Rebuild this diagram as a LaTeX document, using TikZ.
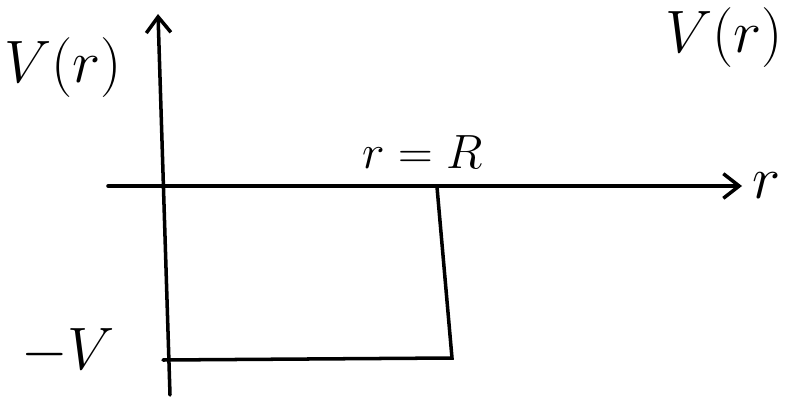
\documentclass[tikz,border=0pt]{standalone}
\usepackage{amsmath}
\usetikzlibrary{positioning,arrows.meta}
\begin{document}
\begin{tikzpicture}[x=0.02cm,y=-0.02cm,line width=2pt,line cap=round,
  tip/.style={-{Straight Barb[length=9pt,width=14pt,line width=2pt]}},
  lbl/.style={inner sep=1pt,font=\Huge,scale=1.37},
  small lbl/.style={inner sep=1pt,font=\Huge,scale=1.1}]
\useasboundingbox (0,0) rectangle (794,402);
% axes (pixel coordinates, y pointing down)
\coordinate (vbot) at (170,395);
\coordinate (vtop) at (158,14);
\coordinate (hleft) at (108,186);
\coordinate (hright) at (742,186);
\draw[tip] (vbot) -- (vtop);
\draw[tip] (hleft) -- (hright);
\node[lbl,right=3pt of hright] (rlab) {$r$};
% square well of depth V and radius R
\coordinate (wtop) at (437,187);
\coordinate (wbot) at (452,358);
\coordinate (wleft) at (163,360);
\draw (wtop) -- (wbot) -- (wleft);
\node[small lbl] (rR) at (423,152) {$r=R$};
\node[lbl] (mV) at (68,352) {$-V$};
\node[lbl] (Vleft) at (63,68) {$V(r)$};
\node[lbl] (Vright) at (724,38) {$V(r)$};
\end{tikzpicture}
\end{document}
